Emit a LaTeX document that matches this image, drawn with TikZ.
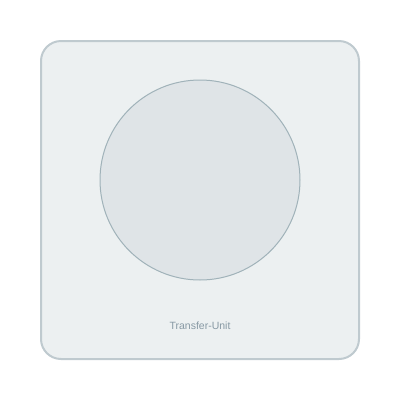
\documentclass[tikz,border=0pt]{standalone}
\usepackage{fontspec}
\setsansfont{Liberation Sans}
\definecolor{unitfill}{HTML}{ECF0F1}
\definecolor{unitdraw}{HTML}{BFCACF}
\definecolor{diskfill}{HTML}{DFE4E7}
\definecolor{diskdraw}{HTML}{A0B2B9}
\definecolor{labeltext}{HTML}{8799A4}

\begin{document}
\begin{tikzpicture}[
        x=1pt, y=-1pt,
        unit/.style={
            % The shape:
            rectangle,
            rounded corners=20pt,
            % The border
            line width=2pt,
            draw=unitdraw,
            % The filling
            fill=unitfill
        },
        disk/.style={
            % The border
            line width=1pt,
            draw=diskdraw,
            % The filling
            fill=diskfill
        },
        caption/.style={
            % Font
            font=\sffamily\fontsize{10.5}{12}\selectfont,
            text=labeltext
        }]

        \useasboundingbox (0,0) rectangle (400,400);

        \draw [unit] (41,41) rectangle (359,359);
        \draw [disk] (200,180) circle (100);
        \node [caption] (name) at (200,326) {Transfer-Unit};

    \end{tikzpicture}
\end{document}
